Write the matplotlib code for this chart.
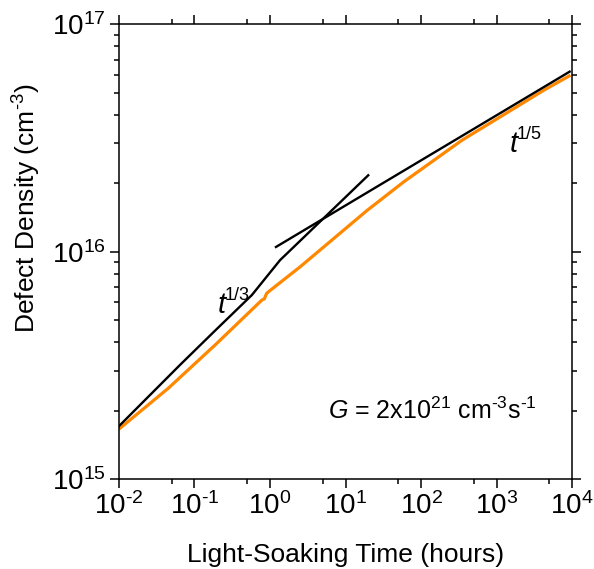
import numpy as np
import matplotlib
matplotlib.use('Agg')
import matplotlib.pyplot as plt
from matplotlib.ticker import LogLocator, FuncFormatter, NullFormatter

plt.rcParams['font.family'] = ['Liberation Sans', 'DejaVu Sans']
plt.rcParams['mathtext.fontset'] = 'custom'
plt.rcParams['mathtext.rm'] = 'Liberation Sans'
plt.rcParams['mathtext.it'] = 'Liberation Sans:italic'
plt.rcParams['mathtext.bf'] = 'Liberation Sans:bold'

# black measured curve (t^1/3 regime, with fitted extension)
black_t = [0.01, 0.0644, 0.1875, 0.575, 1.0, 1.36, 20]
black_n = [1.71e15, 3.18e15, 4.5e15, 6.45e15, 8.1e15, 9.19e15, 2.17e16]

# t^1/5 fit line
fit_t = [1.2, 9300]
fit_n = [1.05e16, 6.2e16]

# orange curve
orange_t = [0.01, 0.045, 0.1875, 0.78, 0.84, 0.9, 0.955, 2.51, 19.3, 59, 351, 1130, 4240, 9550]
orange_n = [1.66e15, 2.51e15, 3.89e15, 6.13e15, 6.2e15, 6.55e15, 6.67e15, 8.59e15,
            1.52e16, 2.03e16, 3.10e16, 3.93e16, 5.14e16, 5.98e16]

fig = plt.figure(figsize=(5.94, 5.69), dpi=100)
ax = fig.add_axes([0.2003, 0.158, 0.7627, 0.799])

ax.plot(orange_t, orange_n, color='#ff8800', lw=2.3, solid_capstyle='butt')
ax.plot(black_t, black_n, color='black', lw=1.7)
ax.plot(fit_t, fit_n, color='black', lw=1.7)

ax.set_xscale('log')
ax.set_yscale('log')
ax.set_xlim(1e-2, 1e4)
ax.set_ylim(1e15, 1e17)


def fmt(v, pos):
    e = int(round(np.log10(v)))
    s = str(e).replace('-', r'\text{-}')
    return r'$\mathregular{10^{%s}}$' % s


ax.xaxis.set_major_locator(LogLocator(base=10, numticks=20))
ax.xaxis.set_minor_locator(LogLocator(base=10, subs=[5], numticks=20))
ax.yaxis.set_major_locator(LogLocator(base=10, numticks=20))
ax.yaxis.set_minor_locator(LogLocator(base=10, subs=np.arange(2, 10), numticks=20))
ax.xaxis.set_major_formatter(FuncFormatter(fmt))
ax.yaxis.set_major_formatter(FuncFormatter(fmt))
ax.xaxis.set_minor_formatter(NullFormatter())
ax.yaxis.set_minor_formatter(NullFormatter())

ax.tick_params(which='both', direction='out', top=True, right=True, width=1.1, labelsize=20)
ax.tick_params(which='major', length=6.5)
ax.tick_params(which='minor', length=3.6)
ax.tick_params(axis='x', pad=3)
ax.tick_params(axis='y', pad=3)
for sp in ax.spines.values():
    sp.set_linewidth(1.1)

ax.set_xlabel('Light-Soaking Time (hours)', fontsize=19)
ax.set_ylabel(r'Defect Density (cm$^{\mathregular{\text{-}3}}$)', fontsize=19)
ax.xaxis.set_label_coords(0.5, -0.14)
ax.xaxis.label.set_va('top')
ax.yaxis.set_label_coords(-0.168, 0.595)

# slope labels: italic t with small superscript
ax.text(0.2185, 0.365, 't', style='italic', transform=ax.transAxes,
        fontsize=21, va='baseline', ha='left')
ax.text(0.234, 0.395, '1/3', transform=ax.transAxes,
        fontsize=13, va='baseline', ha='left')
ax.text(0.863, 0.719, 't', style='italic', transform=ax.transAxes,
        fontsize=21, va='baseline', ha='left')
ax.text(0.8785, 0.749, '1/5', transform=ax.transAxes,
        fontsize=13, va='baseline', ha='left')

ax.text(0.461, 0.132,
        r'$\mathit{G}$ = 2x10$^{\mathregular{21}}$ cm$^{\mathregular{\text{-}3}}$s$^{\mathregular{\text{-}1}}$',
        transform=ax.transAxes, fontsize=18, va='baseline', ha='left')

fig.savefig('out.png', dpi=100)
